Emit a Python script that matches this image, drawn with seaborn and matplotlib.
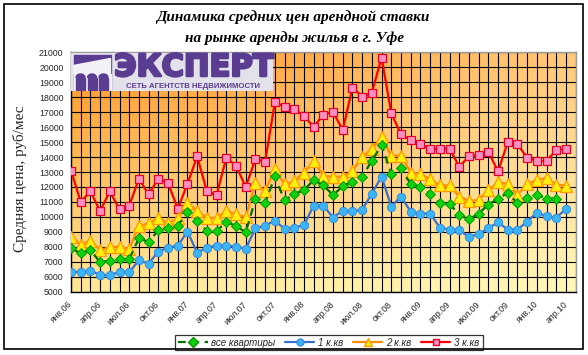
import numpy as np
import pandas as pd
import matplotlib
matplotlib.use("Agg")
import matplotlib.pyplot as plt
import matplotlib.patheffects as pe
import seaborn as sns
from matplotlib.patches import Rectangle, Polygon
from matplotlib.lines import Line2D

# ---- data (Jan 2006 .. Apr 2010, monthly) ----
all_flats = [7900, 7570, 7770, 6970, 7080, 7190, 7190, 8570, 8330, 9100,
             9240, 9400, 10310, 9730, 9060, 9060, 9660, 9400, 8970, 11180,
             10910, 12700, 11110, 11530, 11780, 12470, 12110, 11450, 12050, 12360,
             12690, 13760, 14800, 12880, 13250, 12200, 12000, 11530, 10910, 10870,
             10150, 9840, 10220, 10820, 11220, 11600, 10910, 11240, 11490, 11220,
             11220, np.nan]
one_room = [6350, 6300, 6410, 6120, 6120, 6300, 6300, 7100, 6880, 7680,
            7950, 8080, 9020, 7610, 7950, 8080, 8080, 8020, 7860, 9240,
            9420, 9750, 9200, 9290, 9440, 10760, 10760, 9950, 10420, 10380,
            10470, 11560, 12690, 10690, 11360, 10350, 10220, 10220, 9290, 9150,
            9150, 8640, 8860, 9240, 9640, 9150, 9150, 9690, 10290, 10040,
            9950, 10530]
two_room = [8680, 8150, 8420, 7790, 7970, 8020, 7860, 9400, 9570, 9930,
            9570, 9930, 10960, 10380, 9930, 9930, 10420, 10170, 9980, 12250,
            11740, 13180, 12180, 12380, 12960, 13740, 12740, 12670, 12690, 13070,
            14030, 14520, 15370, 14070, 14100, 12960, 12890, 12510, 12110, 12110,
            11360, 11070, 11130, 11800, 12310, 12200, 11470, 12200, 12470, 12600,
            12160, 12090]
three_room = [13100, 11000, 11700, 10400, 11700, 10500, 10750, 12550, 11500, 12550,
              12250, 10550, 12200, 14050, 11700, 11470, 13940, 13430, 12000, 13850,
              13700, 17650, 17370, 17190, 16770, 16000, 16840, 17000, 15810, 18640,
              18040, 18300, 20650, 16920, 15520, 15140, 14900, 14520, 14560, 14560,
              13360, 14050, 14120, 14340, 13050, 14990, 14850, 13960, 13720, 13760,
              14450, 14560]
tick_labels = ["янв.06", "апр.06", "июл.06", "окт.06",
               "янв.07", "апр.07", "июл.07", "окт.07",
               "янв.08", "апр.08", "июл.08", "окт.08",
               "янв.09", "апр.09", "июл.09", "окт.09",
               "янв.10", "апр.10"]
series_names = ["все квартиры", "1 к.кв", "2 к.кв", "3 к.кв"]
title_lines = ["Динамика средних цен арендной ставки", "на рынке аренды жилья в г. Уфе"]
y_label = "Средняя цена, руб/мес"

month = np.arange(len(three_room))
df = pd.DataFrame({"month": month, "all": all_flats, "one": one_room,
                   "two": two_room, "three": three_room})

sns.set_style("white")
plt.rcParams["font.family"] = ["Liberation Sans", "DejaVu Sans"]

W, H = 588, 355
fig = plt.figure(figsize=(W / 100, H / 100), dpi=100)
fig.patch.set_facecolor("white")
ax = fig.add_axes([70.5 / W, 1 - 291.7 / H, (575.7 - 70.5) / W, (291.7 - 52.3) / H])

xlim = (-0.05, 52.0)
ylim = (5000, 21000)

# gradient background
gh, gw = 120, 200
u = np.linspace(0, 1, gw)[None, :, None]
v = np.linspace(0, 1, gh)[:, None, None]
TL = np.array([255, 148, 35]) / 255
TR = np.array([255, 200, 120]) / 255
BL = np.array([255, 232, 150]) / 255
BR = np.array([255, 248, 185]) / 255
grad = TL * (1 - u) * (1 - v) + TR * u * (1 - v) + BL * (1 - u) * v + BR * u * v
ax.imshow(grad, extent=(xlim[0], xlim[1], ylim[0], ylim[1]), aspect="auto",
          origin="upper", zorder=0, interpolation="bilinear")

common = dict(ax=ax, x="month", legend=False, sort=False, linewidth=1.6, zorder=3)
sns.lineplot(data=df, y="three", color="#FF0000", marker="s", markersize=6.0,
             markerfacecolor="#FF8FC0", markeredgecolor="#E0002A", markeredgewidth=0.9, **common)
sns.lineplot(data=df, y="two", color="#FF8C00", marker="^", markersize=8,
             markerfacecolor="#FFEF10", markeredgecolor="#FF9A00", markeredgewidth=0.9, **common)
sns.lineplot(data=df, y="all", color="#006E00", linestyle=(0, (3.5, 2.5)), marker="D",
             markersize=5, markerfacecolor="#10D010", markeredgecolor="#009A00",
             markeredgewidth=0.7, **common)
sns.lineplot(data=df, y="one", color="#3A6FD0", marker="o", markersize=6,
             markerfacecolor="#3AB4F5", markeredgecolor="#3A8CE0", markeredgewidth=0.7, **common)

ax.set_xlim(*xlim)
ax.set_ylim(*ylim)
ax.set_xticks(np.arange(0, len(month), 3))
ax.set_xticklabels(tick_labels)
ax.set_xticks(np.arange(0, 53), minor=True)
ax.set_yticks(np.arange(5000, 21001, 1000))
ax.set_yticklabels([str(t) for t in range(5000, 21001, 1000)])
ax.grid(True, which="both", color="black", linewidth=0.8, zorder=1)
ax.set_axisbelow(True)
ax.set_xlabel("")
ax.set_ylabel("")
ax.tick_params(axis="both", which="both", direction="out", length=3.5, width=0.8,
               color="black", labelsize=6.3, pad=1.5)
ax.tick_params(axis="x", which="major", pad=4.5)
for lab in ax.get_xticklabels():
    lab.set_rotation(45)
    lab.set_ha("right")
    lab.set_va("center")
    lab.set_rotation_mode("anchor")
for s in ["left", "bottom"]:
    ax.spines[s].set_color("black")
    ax.spines[s].set_linewidth(1.0)
for s in ["top", "right"]:
    ax.spines[s].set_color("#9A9A9A")
    ax.spines[s].set_linewidth(1.0)

# logo
lx0, lx1, ly0, ly1 = 70.5, 273, 52.5, 91
lax = fig.add_axes([lx0 / W, 1 - ly1 / H, (lx1 - lx0) / W, (ly1 - ly0) / H])
lax.set_xlim(0, lx1 - lx0)
lax.set_ylim(ly1 - ly0, 0)
lax.axis("off")
purple = "#5A3D90"
light = "#F2F2F6"
lax.add_patch(Rectangle((0, 0), lx1 - lx0, ly1 - ly0, color="#E3E1EA", zorder=0))
lax.add_patch(Rectangle((3, 2), 37, 35, color=purple, zorder=1))
lax.add_patch(Polygon([(3, 13), (40, 6), (40, 21), (3, 21)], closed=True, color=light, zorder=2))
lax.add_patch(Rectangle((3, 21), 37, 16, color=light, zorder=2))
for cx in (10, 21.5, 33):
    lax.add_patch(Rectangle((cx - 4.5, 25), 9, 12, color=purple, zorder=3))
    t = np.linspace(0, np.pi, 20)
    lax.add_patch(Polygon(np.c_[cx + 4.5 * np.cos(t), 25 - 3.5 * np.sin(t)], closed=True,
                          color=purple, zorder=3))
lax.text(123, 15, "ЭКСПЕРТ", color=purple, fontsize=22, fontweight="bold",
         family=["DejaVu Sans"], ha="center", va="center", zorder=4,
         path_effects=[pe.withStroke(linewidth=1.8, foreground=purple)])
lax.text(123, 33.5, "СЕТЬ АГЕНТСТВ НЕДВИЖИМОСТИ", color=purple, fontsize=5.6,
         fontweight="bold", ha="center", va="center", zorder=4)

# titles
fig.text(293 / W, 1 - 17 / H, title_lines[0], ha="center", va="center", color="black",
         family=["Liberation Serif"], fontsize=11, fontweight="bold", style="italic")
fig.text(295 / W, 1 - 38 / H, title_lines[1], ha="center", va="center", color="black",
         family=["Liberation Serif"], fontsize=11, fontweight="bold", style="italic")
fig.text(20 / W, 1 - 178.5 / H, y_label, rotation=90, ha="center", va="center",
         family=["Liberation Serif"], fontsize=11)

# legend
handles = [
    Line2D([], [], color="#006E00", linestyle=(0, (3.5, 2.5)), lw=1.6, marker="D",
           markersize=5, markerfacecolor="#10D010", markeredgecolor="#009A00"),
    Line2D([], [], color="#3A6FD0", lw=1.6, marker="o", markersize=5,
           markerfacecolor="#3AB4F5", markeredgecolor="#3A8CE0"),
    Line2D([], [], color="#FF8C00", lw=1.6, marker="^", markersize=6,
           markerfacecolor="#FFEF10", markeredgecolor="#FF9A00"),
    Line2D([], [], color="#FF0000", lw=1.6, marker="s", markersize=5,
           markerfacecolor="#FF8FC0", markeredgecolor="#E0002A"),
]
leg = fig.legend(handles, series_names, loc="center", bbox_to_anchor=(329 / W, 1 - 342.5 / H),
                 ncol=4, frameon=True, fancybox=False, edgecolor="black",
                 prop={"style": "italic", "size": 7}, handlelength=3.0, borderpad=0.3,
                 columnspacing=1.0, handletextpad=0.4, borderaxespad=0)
leg.get_frame().set_linewidth(0.9)

# figure border
fig.patches.append(Rectangle((4 / W, 1 - 349 / H), 579 / W, 345 / H, transform=fig.transFigure,
                             fill=False, edgecolor="black", linewidth=1.2, zorder=10))

fig.savefig("out.png", dpi=100)
